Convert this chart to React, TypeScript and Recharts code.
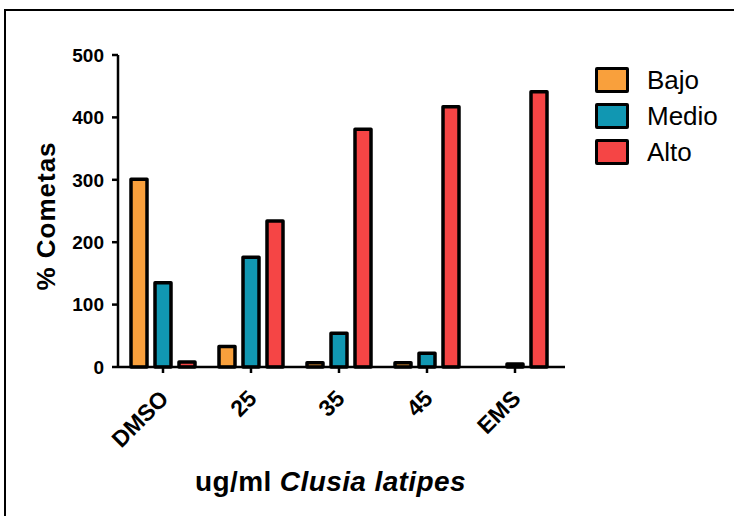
import React from 'react';
import { BarChart, Bar, XAxis, YAxis, Legend, Label } from 'recharts';

const categories = ['DMSO', '25', '35', '45', 'EMS'];
const bajo = [301, 33, 7, 7, 0];
const medio = [135, 176, 54, 22, 5];
const alto = [8, 234, 381, 417, 441];
const yTicks = [0, 100, 200, 300, 400, 500];

const FONT = '"Liberation Sans", Arial, sans-serif';

const SERIES = [
  { key: 'bajo', name: 'Bajo', color: '#F9A03C' },
  { key: 'medio', name: 'Medio', color: '#1197B2' },
  { key: 'alto', name: 'Alto', color: '#F54545' },
];

const data = categories.map((c, i) => ({
  name: c,
  bajo: bajo[i],
  medio: medio[i],
  alto: alto[i],
}));

const XTick = ({ x, y, payload }: any) => (
  <text
    x={x + 7}
    y={y + 25}
    transform={`rotate(-45, ${x + 7}, ${y + 25})`}
    textAnchor="end"
    fontFamily={FONT}
    fontWeight="bold"
    fontSize={23}
    fill="#000"
  >
    {payload.value}
  </text>
);

const LegendBox = () => (
  <div style={{ fontFamily: FONT }}>
    {SERIES.map(s => (
      <div key={s.key} style={{ display: 'flex', alignItems: 'center', height: 36 }}>
        <div
          style={{
            width: 28,
            height: 20,
            background: s.color,
            border: '3px solid #000',
            borderRadius: 2,
            marginRight: 18,
          }}
        />
        <span style={{ fontSize: 26, color: '#000' }}>{s.name}</span>
      </div>
    ))}
  </div>
);

export default function App() {
  return (
    <div style={{ position: 'absolute', left: 0, top: 0, width: 734, height: 516, overflow: 'hidden', background: '#fff' }}>
      <div
        style={{
          position: 'absolute',
          left: 4,
          top: 9,
          width: 900,
          height: 700,
          borderLeft: '2px solid #000',
          borderTop: '2px solid #000',
        }}
      />
      <div style={{ position: 'absolute', left: 0, top: 0 }}>
        <BarChart
          width={734}
          height={516}
          data={data}
          margin={{ top: 55, right: 169, bottom: 0, left: 0 }}
          barSize={16}
          barGap={8}
        >
          <XAxis
            dataKey="name"
            height={149}
            padding={{ left: 1, right: 6 }}
            axisLine={{ stroke: '#000', strokeWidth: 2.5 }}
            tickLine={{ stroke: '#000', strokeWidth: 2.5 }}
            tickSize={6}
            tick={<XTick />}
            interval={0}
          >
            <Label
              content={({ viewBox }: any) => (
                <text
                  x={viewBox.x + viewBox.width / 2 - 11}
                  y={491}
                  textAnchor="middle"
                  fontFamily={FONT}
                  fontWeight="bold"
                  fontSize={28}
                  letterSpacing={0.4}
                  fill="#000"
                >
                  ug/ml <tspan fontStyle="italic">Clusia latipes</tspan>
                </text>
              )}
            />
          </XAxis>
          <YAxis
            width={118}
            domain={[0, 500]}
            ticks={yTicks}
            interval={0}
            axisLine={{ stroke: '#000', strokeWidth: 2.5 }}
            tickLine={{ stroke: '#000', strokeWidth: 2.5 }}
            tickSize={6}
            tickMargin={8}
            tick={{ fill: '#000', fontFamily: FONT, fontWeight: 'bold', fontSize: 19 }}
          >
            <Label
              content={() => (
                <text
                  x={46}
                  y={216}
                  transform="rotate(-90, 46, 216)"
                  textAnchor="middle"
                  dominantBaseline="central"
                  fontFamily={FONT}
                  fontWeight="bold"
                  fontSize={26}
                  letterSpacing={1}
                  fill="#000"
                >
                  % Cometas
                </text>
              )}
            />
          </YAxis>
          <Legend
            layout="horizontal"
            verticalAlign="middle"
            align="center"
            content={<LegendBox />}
            wrapperStyle={{ left: 595, top: 62, width: 140 }}
          />
          {SERIES.map(s => (
            <Bar
              key={s.key}
              dataKey={s.key}
              name={s.name}
              fill={s.color}
              stroke="#000"
              strokeWidth={3.5}
              strokeLinejoin="round"
              isAnimationActive={false}
            />
          ))}
        </BarChart>
      </div>
    </div>
  );
}
